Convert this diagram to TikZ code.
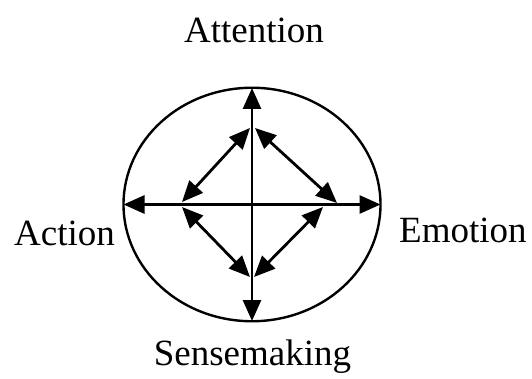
\documentclass[tikz,border=0pt]{standalone}
\usepackage{fontspec}
\setmainfont{Liberation Serif}
\usetikzlibrary{arrows.meta}
\begin{document}
\begin{tikzpicture}[x=1pt,y=-1pt,
  lbl/.style={font=\fontsize{37}{40}\selectfont, inner sep=0pt, anchor=base},
  dbl/.style={line width=2.8pt, >={Triangle[length=21pt 0, width=18pt 0]}, <->},
  rim/.style={line width=2.4pt}]
\useasboundingbox (0,0) rectangle (532,379);
% outer ellipse
\draw[rim] (252,204.5) ellipse [x radius=128.5pt, y radius=116.75pt];
% end points of the cross
\coordinate (T) at (252,88);
\coordinate (B) at (252,321);
\coordinate (L) at (123.5,204.5);
\coordinate (R) at (380.5,204.5);
% diamond corners
\coordinate (DTl) at (250,128);
\coordinate (DTr) at (255,128);
\coordinate (DLu) at (182,202);
\coordinate (DLd) at (182,207);
\coordinate (DBl) at (250,277);
\coordinate (DBr) at (254,277);
\coordinate (DR1) at (337,203);
\coordinate (DR2) at (323,207);
% cross
\draw[dbl] (B) -- (T);
\draw[dbl] (L) -- (R);
% diamond
\draw[dbl] (DLu) -- (DTl);
\draw[dbl] (DTr) -- (DR1);
\draw[dbl] (DLd) -- (DBl);
\draw[dbl] (DBr) -- (DR2);
% labels
\node[lbl] (att) at (254,43) {Attention};
\node[lbl, anchor=base west] (act) at (14,245) {Action};
\node[lbl, anchor=base west] (emo) at (399,243) {Emotion};
\node[lbl] (sen) at (252.5,365) {Sensemaking};
\end{tikzpicture}
\end{document}
